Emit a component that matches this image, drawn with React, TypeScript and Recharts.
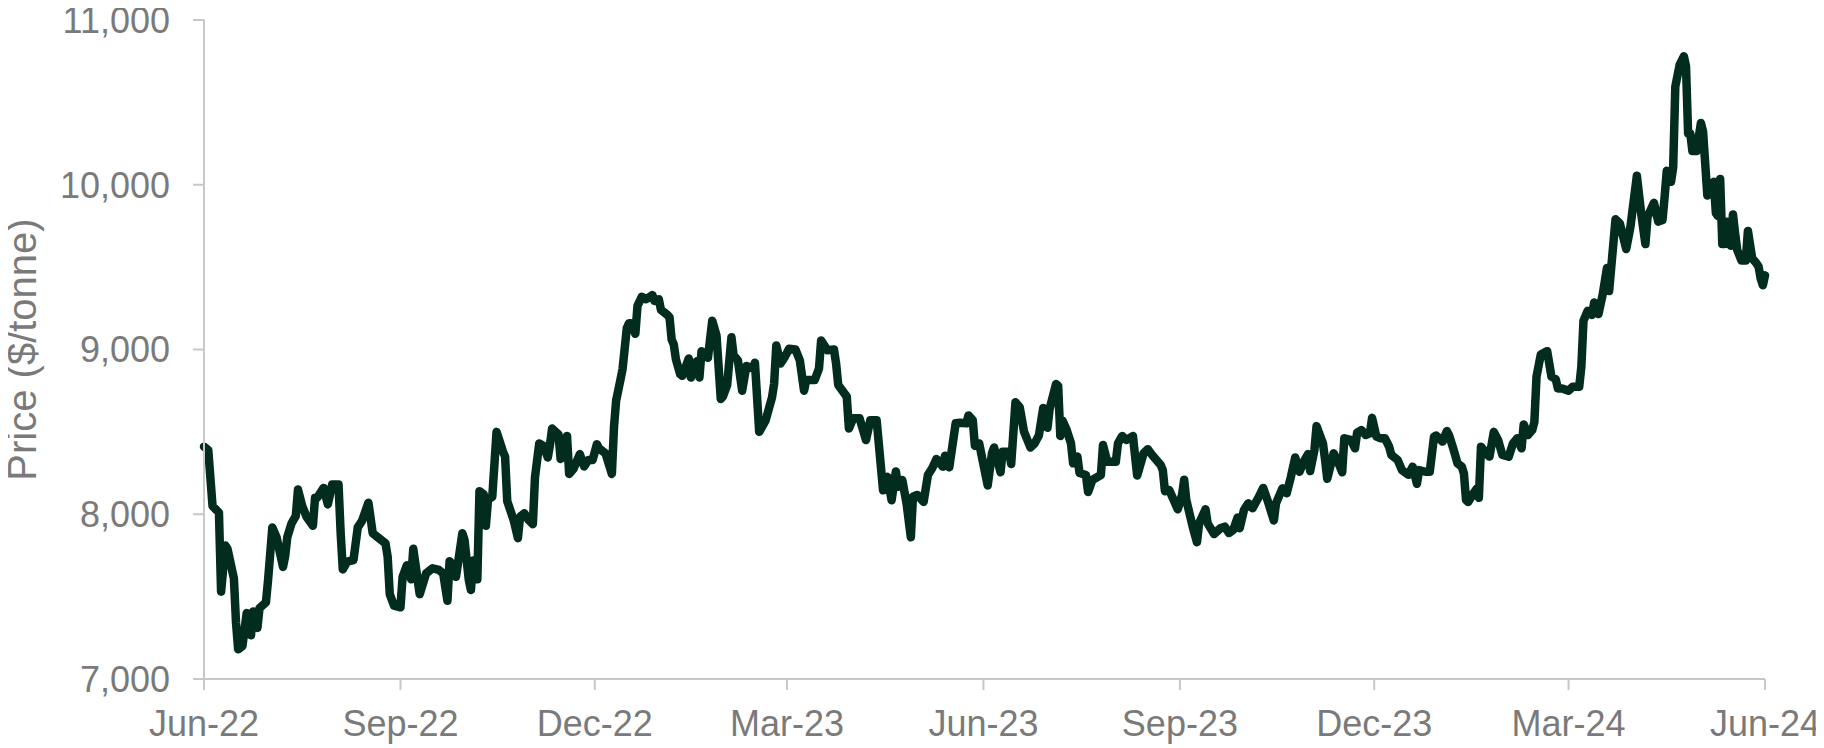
import { LineChart, Line, XAxis, YAxis, Label } from 'recharts';

// daily prices, split by calendar year (MM-DD)
const days2022 = [
  '06-01', '06-03', '06-05', '06-08', '06-09', '06-11', '06-12', '06-15', '06-16', '06-17',
  '06-19', '06-21', '06-23', '06-24', '06-26', '06-27', '06-30', '07-01', '07-03', '07-05',
  '07-08', '07-09', '07-10', '07-12', '07-14', '07-15', '07-17', '07-19', '07-22', '07-23',
  '07-24', '07-27', '07-29', '07-31', '08-03', '08-04', '08-05', '08-07', '08-10', '08-12',
  '08-14', '08-17', '08-19', '08-21', '08-25', '08-26', '08-27', '08-29', '09-01', '09-02',
  '09-04', '09-06', '09-07', '09-10', '09-13', '09-16', '09-19', '09-21', '09-23', '09-24',
  '09-26', '09-27', '09-30', '10-01', '10-03', '10-04', '10-05', '10-07', '10-08', '10-10',
  '10-11', '10-12', '10-14', '10-16', '10-19', '10-20', '10-21', '10-24', '10-26', '10-27',
  '10-29', '10-31', '11-02', '11-03', '11-05', '11-07', '11-09', '11-10', '11-11', '11-14',
  '11-15', '11-18', '11-19', '11-21', '11-24', '11-26', '11-28', '11-30', '12-02', '12-03',
  '12-06', '12-09', '12-10', '12-11', '12-13', '12-14', '12-16', '12-17', '12-18', '12-20',
  '12-21', '12-23', '12-25', '12-28', '12-29', '12-31',
];
const price2022 = [
  8410, 8390, 8050, 8010, 7530, 7810, 7790, 7610, 7340, 7180,
  7200, 7400, 7265, 7410, 7310, 7430, 7465, 7600, 7920, 7860,
  7680, 7745, 7860, 7945, 7990, 8150, 8050, 7985, 7930, 8100,
  8100, 8160, 8060, 8180, 8180, 7885, 7665, 7712, 7722, 7920,
  7960, 8070, 7885, 7864, 7823, 7743, 7515, 7445, 7435, 7620,
  7690, 7605, 7790, 7515, 7641, 7672, 7662, 7641, 7475, 7715,
  7682, 7620, 7885, 7844, 7601, 7540, 7720, 7605, 8140, 8120,
  7930, 8090, 8106, 8500, 8380, 8350, 8080, 7965, 7855, 7985,
  8006, 7965, 7940, 8225, 8430, 8415, 8345, 8420, 8520, 8485,
  8335, 8475, 8245, 8275, 8365, 8290, 8330, 8330, 8425, 8400,
  8370, 8245, 8530, 8690, 8815, 8880, 9130, 9160, 9160, 9095,
  9265, 9320, 9305, 9330, 9295, 9305,
];

const days2023 = [
  '01-01', '01-04', '01-05', '01-06', '01-07', '01-08', '01-10', '01-11', '01-14', '01-15',
  '01-16', '01-18', '01-19', '01-20', '01-23', '01-25', '01-27', '01-29', '01-30', '02-01',
  '02-03', '02-04', '02-06', '02-08', '02-10', '02-13', '02-14', '02-16', '02-19', '02-22',
  '02-23', '02-24', '02-26', '02-28', '03-02', '03-05', '03-07', '03-09', '03-10', '03-14',
  '03-16', '03-17', '03-20', '03-23', '03-24', '03-25', '03-29', '03-30', '04-01', '04-04',
  '04-07', '04-09', '04-12', '04-15', '04-17', '04-19', '04-21', '04-22', '04-24', '04-26',
  '04-28', '04-29', '05-01', '05-04', '05-06', '05-08', '05-10', '05-13', '05-14', '05-16',
  '05-19', '05-21', '05-24', '05-25', '05-27', '05-28', '05-30', '06-03', '06-05', '06-06',
  '06-09', '06-10', '06-13', '06-14', '06-16', '06-18', '06-20', '06-23', '06-25', '06-27',
  '06-29', '07-01', '07-02', '07-05', '07-06', '07-07', '07-08', '07-10', '07-12', '07-13',
  '07-15', '07-16', '07-19', '07-20', '07-22', '07-26', '07-27', '07-29', '08-02', '08-03',
  '08-05', '08-07', '08-10', '08-12', '08-15', '08-17', '08-19', '08-23', '08-24', '08-25',
  '08-27', '08-31', '09-02', '09-03', '09-04', '09-07', '09-09', '09-10', '09-13', '09-14',
  '09-17', '09-20', '09-22', '09-24', '09-26', '09-28', '09-29', '10-01', '10-03', '10-05',
  '10-08', '10-10', '10-12', '10-15', '10-16', '10-19', '10-21', '10-23', '10-25', '10-27',
  '10-29', '10-31', '11-01', '11-03', '11-04', '11-07', '11-08', '11-09', '11-12', '11-14',
  '11-16', '11-17', '11-20', '11-22', '11-23', '11-25', '11-27', '11-29', '11-30', '12-02',
  '12-04', '12-06', '12-08', '12-09', '12-12', '12-14', '12-15', '12-17', '12-19', '12-21',
  '12-22', '12-25', '12-27', '12-29', '12-30',
];
const price2023 = [
  9240, 9210, 9195, 9060, 9030, 8940, 8850, 8840, 8945, 8830,
  8910, 8930, 8830, 8990, 8950, 9175, 9085, 8700, 8715, 8785,
  9075, 8965, 8935, 8750, 8900, 8885, 8920, 8500, 8570, 8710,
  8795, 9025, 8915, 8955, 9005, 9000, 8935, 8750, 8815, 8815,
  8885, 9055, 8995, 9000, 8915, 8785, 8714, 8520, 8582, 8582,
  8450, 8570, 8570, 8145, 8228, 8085, 8260, 8167, 8208, 8066,
  7860, 8106, 8117, 8075, 8238, 8279, 8335, 8289, 8355, 8285,
  8552, 8555, 8552, 8600, 8572, 8415, 8430, 8175, 8370, 8405,
  8255, 8380, 8380, 8305, 8680, 8650, 8501, 8405, 8430, 8480,
  8645, 8525, 8640, 8790, 8780, 8475, 8570, 8511, 8430, 8309,
  8350, 8250, 8238, 8135, 8208, 8238, 8420, 8319, 8319, 8430,
  8475, 8451, 8475, 8235, 8370, 8395, 8360, 8299, 8268, 8140,
  8147, 8030, 8117, 8210, 8086, 7924, 7830, 7945, 8030, 7945,
  7880, 7915, 7925, 7886, 7905, 7980, 7915, 8026, 8066, 8036,
  8106, 8160, 8086, 7962, 8066, 8157, 8127, 8228, 8345, 8258,
  8319, 8365, 8262, 8390, 8535, 8430, 8329, 8215, 8370, 8319,
  8255, 8461, 8451, 8400, 8495, 8511, 8481, 8491, 8585, 8471,
  8461, 8461, 8410, 8360, 8329, 8268, 8258, 8240, 8289, 8185,
  8268, 8258, 8258, 8471, 8478,
];

const days2024 = [
  '01-02', '01-04', '01-05', '01-07', '01-09', '01-11', '01-12', '01-13', '01-14', '01-16',
  '01-18', '01-19', '01-20', '01-23', '01-24', '01-26', '01-28', '01-30', '02-02', '02-04',
  '02-06', '02-08', '02-09', '02-11', '02-13', '02-14', '02-15', '02-17', '02-20', '02-22',
  '02-24', '02-25', '02-27', '03-01', '03-03', '03-06', '03-07', '03-08', '03-10', '03-12',
  '03-13', '03-15', '03-17', '03-19', '03-20', '03-23', '03-25', '03-28', '03-30', '04-02',
  '04-04', '04-06', '04-07', '04-10', '04-12', '04-14', '04-15', '04-16', '04-18', '04-19',
  '04-20', '04-22', '04-24', '04-25', '04-26', '04-27', '04-28', '04-30', '05-02', '05-03',
  '05-05', '05-06', '05-08', '05-09', '05-10', '05-11', '05-12', '05-13', '05-14', '05-16',
  '05-17', '05-18', '05-19', '05-21', '05-23', '05-24', '05-26', '05-28', '05-29', '05-30',
  '05-31', '06-01',
];
const price2024 = [
  8441, 8505, 8481, 8400, 8309, 8289, 8248, 8086, 8075, 8117,
  8155, 8100, 8410, 8360, 8350, 8500, 8451, 8360, 8350, 8430,
  8461, 8400, 8545, 8481, 8511, 8560, 8835, 8970, 8990, 8835,
  8820, 8764, 8764, 8750, 8774, 8774, 8896, 9175, 9235, 9210,
  9285, 9215, 9335, 9495, 9355, 9790, 9766, 9610, 9746, 10055,
  9827, 9640, 9806, 9890, 9776, 9786, 9928, 10085, 10018, 10105,
  10595, 10727, 10780, 10720, 10310, 10312, 10205, 10205, 10375, 10322,
  9935, 9948, 10018, 9827, 9810, 10035, 9640, 9640, 9776, 9630,
  9820, 9705, 9604, 9540, 9540, 9720, 9553, 9523, 9503, 9430,
  9390, 9450,
];

const yTicks = [7000, 8000, 9000, 10000, 11000];
const xTickDates = [
  '2022-06-01', '2022-09-01', '2022-12-01', '2023-03-01', '2023-06-01',
  '2023-09-01', '2023-12-01', '2024-03-01', '2024-06-01',
];
const xTickLabels = [
  'Jun-22', 'Sep-22', 'Dec-22', 'Mar-23', 'Jun-23',
  'Sep-23', 'Dec-23', 'Mar-24', 'Jun-24',
];

const toRows = (year: number, days: string[], prices: number[]) =>
  days.map((d, i) => ({ t: Date.parse(`${year}-${d}`), price: prices[i] }));

const data = [
  ...toRows(2022, days2022, price2022),
  ...toRows(2023, days2023, price2023),
  ...toRows(2024, days2024, price2024),
];

const xTicks = xTickDates.map((d) => Date.parse(d));

const FONT = '"Liberation Sans", Arial, sans-serif';
const TEXT = '#7a7a7a';
const AXIS = '#c8c8c8';

export default function App() {
  return (
    <div style={{ width: 1816, height: 740 }}>
      <LineChart width={1816} height={740} data={data} margin={{ top: 12, right: 59, bottom: 9, left: 0 }}>
        <XAxis
          dataKey="t"
          type="number"
          domain={[xTicks[0], xTicks[xTicks.length - 1]]}
          ticks={xTicks}
          interval={0}
          tickFormatter={(t: number) => xTickLabels[xTicks.indexOf(t)] ?? ''}
          stroke={AXIS}
          strokeWidth={2}
          tickSize={11}
          tickMargin={20}
          height={60}
          tick={{ fill: TEXT, fontSize: 36, fontFamily: FONT }}
        />
        <YAxis
          domain={[7000, 11000]}
          ticks={yTicks}
          interval={0}
          tickFormatter={(v: number) => v.toLocaleString('en-US')}
          stroke={AXIS}
          strokeWidth={2}
          tickSize={11}
          tickMargin={23}
          width={196}
          tick={{ fill: TEXT, fontSize: 36, fontFamily: FONT }}
        >
          <Label
            value="Price ($/tonne)"
            angle={-90}
            position="insideLeft"
            offset={14}
            textAnchor="middle"
            fill={TEXT}
            fontSize={40}
            fontFamily={FONT}
          />
        </YAxis>
        <Line
          type="linear"
          dataKey="price"
          stroke="#022c1e"
          strokeWidth={8.5}
          strokeLinejoin="round"
          strokeLinecap="round"
          dot={false}
          isAnimationActive={false}
        />
      </LineChart>
    </div>
  );
}
